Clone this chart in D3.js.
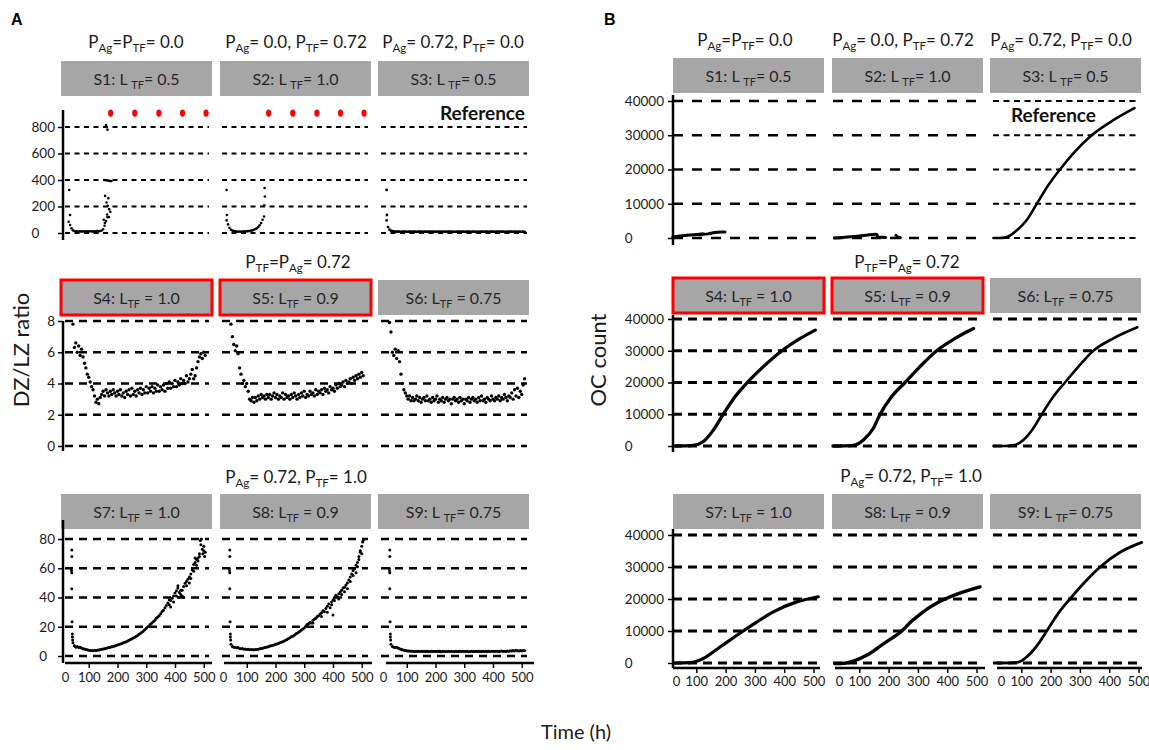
<!DOCTYPE html>
<html>
<head>
<meta charset="utf-8">
<script src="https://cdnjs.cloudflare.com/ajax/libs/d3/7.8.5/d3.min.js"></script>
<style>
  body { margin: 0; background: #fff; }
  svg text { white-space: pre; }
</style>
</head>
<body>
<div id="chart"></div>
<script>
// ---------- data: DZ/LZ ratio scatter (panel A), sampled every 5 h ----------
const step = 5;
const toPts = (start, vals) => vals.map((v, i) => [start + i * step, v]);

// row 1 (P_Ag / P_TF variations)
const dzlzS1 = [85, 60, 35, 20, 15, 13, 12, 11, 12, 11, 12, 11, 13, 12, 11, 13, 12, 11, 13, 12,
  14, 13, 15, 18, 28, 55, 90, 120];                                   // from 30 h
const dzlzS1Extra = [[32, 325], [35, 136], [157, 800], [160, 815], [165, 780], [155, 400], [160, 398],
  [165, 396], [170, 394], [175, 393], [179, 392], [157, 280], [168, 262], [162, 230], [166, 205],
  [171, 180], [175, 160], [164, 140], [170, 120], [152, 100], [156, 75]];
const dzlzS2 = [95, 65, 40, 25, 18, 14, 12, 11, 10, 11, 10, 11, 12, 11, 13, 14, 15, 18, 20, 24,
  30, 36, 45, 58, 75, 100, 125];                                      // from 30 h
const dzlzS2Extra = [[30, 325], [31, 136], [162, 340], [163, 275], [161, 210]];
const dzlzS3 = [95, 45, 25, 17, 14, 12, 11, 10, 11, 10, 9, 10, 11, 10, 9, 10, 10, 11, 9, 10,
  10, 9, 10, 11, 10, 9, 10, 10, 9, 10, 11, 10, 10, 9, 10, 9, 10, 11, 10, 9,
  10, 10, 9, 10, 11, 10, 9, 10, 9, 10, 10, 11, 9, 10, 10, 9, 10, 11, 10, 9,
  10, 10, 9, 10, 9, 10, 11, 10, 9, 10, 10, 9, 10, 11, 10, 9, 10, 10, 9, 10,
  11, 10, 9, 10, 9, 10, 10, 11, 9, 10, 10, 9, 10, 10, 9, 10, 9];     // from 30 h
const dzlzS3Extra = [[30, 325], [31, 136]];
const extinctHours = [176, 260, 344, 426, 508];
const extinctLevel = 905;

// row 2 (P_TF = P_Ag = 0.72)
const dzlzS4 = [7.8, 6.3, 6.6, 6.0, 6.4, 5.8, 6.2, 5.7, 5.3, 5.0,
  4.6, 4.4, 4.1, 3.8, 3.6, 3.2, 2.8, 3.0, 2.7, 3.1,
  3.3, 3.5, 3.2, 3.6, 3.4, 3.2, 3.5, 3.3, 3.6, 3.4,
  3.2, 3.5, 3.3, 3.6, 3.2, 3.4, 3.1, 3.5, 3.3, 3.6,
  3.2, 3.7, 3.3, 3.5, 3.2, 3.6, 3.4, 3.7, 3.3, 3.6,
  3.4, 3.8, 3.4, 3.7, 3.5, 3.8, 3.4, 3.7, 3.5, 3.9,
  3.5, 3.8, 3.6, 3.9, 3.5, 4.0, 3.7, 4.1, 3.7, 4.0,
  3.8, 4.2, 3.8, 4.1, 3.9, 4.3, 4.0, 4.2, 4.0, 4.5,
  4.1, 4.3, 4.6, 4.9, 4.3, 4.5, 5.0, 5.4, 5.7, 5.9,
  5.6, 6.0, 5.8];                                                      // from 45 h
const dzlzS5 = [7.8, 7.0, 6.5, 6.1, 6.4, 5.9, 5.0, 4.6, 4.0, 4.2,
  3.8, 4.0, 3.5, 3.0, 2.9, 3.1, 2.8, 3.1, 2.9, 3.2,
  3.0, 3.3, 3.1, 3.2, 3.0, 3.3, 3.1, 3.3, 3.0, 3.2,
  3.4, 3.1, 3.3, 3.0, 3.2, 3.1, 3.4, 3.0, 3.3, 3.1,
  3.2, 3.0, 3.3, 3.1, 3.4, 3.2, 3.0, 3.3, 3.1, 3.4,
  3.2, 3.5, 3.1, 3.3, 3.2, 3.5, 3.3, 3.4, 3.2, 3.6,
  3.3, 3.5, 3.4, 3.6, 3.3, 3.7, 3.5, 3.6, 3.4, 3.8,
  3.6, 3.7, 3.5, 3.9, 3.7, 4.0, 3.8, 3.9, 4.1, 3.8,
  4.2, 4.0, 4.1, 4.3, 4.0, 4.4, 4.2, 4.5, 4.3, 4.6,
  4.4, 4.7, 4.5];                                                      // from 45 h
const dzlzS6 = [7.9, 7.3, 6.0, 5.8, 6.2, 5.6, 6.1, 5.4, 4.6, 4.0,
  3.6, 3.4, 3.2, 3.0, 3.2, 2.9, 3.1, 2.9, 3.0, 3.2,
  2.9, 3.1, 2.8, 3.0, 3.1, 2.9, 3.2, 2.9, 3.0, 2.8,
  3.1, 2.9, 3.0, 3.2, 2.8, 3.0, 2.9, 3.1, 2.8, 3.0,
  3.1, 2.9, 3.0, 2.7, 3.0, 3.1, 2.9, 3.0, 2.8, 3.1,
  2.9, 3.0, 2.7, 3.0, 2.9, 3.1, 2.8, 3.0, 3.1, 2.9,
  3.0, 2.8, 3.1, 2.9, 3.2, 2.9, 3.0, 2.8, 3.1, 3.0,
  2.9, 3.2, 3.0, 2.9, 3.1, 3.0, 3.2, 2.9, 3.1, 3.0,
  3.3, 3.1, 2.9, 3.2, 3.1, 3.4, 3.0, 3.6, 3.2, 3.7,
  3.1, 3.5, 3.3, 3.9, 4.3];                                            // from 40 h

// row 3 (P_Ag = 0.72, P_TF = 1.0)
const earlySpike = [[41, 72.5], [41, 68], [39, 60], [40, 58.5], [41, 57], [41, 46], [42, 23.5],
  [43, 15], [43, 13], [44, 11]];
const dzlzS7 = [9, 7, 6, 6.5, 5.8, 6, 5.5, 5, 4.8, 4.5,
  4.2, 4, 3.7, 3.8, 3.6, 3.7, 3.8, 4, 4.1, 4.4,
  4.6, 4.8, 5, 5.3, 5.4, 5.8, 6, 6.3, 6.5, 6.9,
  7.2, 7.5, 7.8, 8.2, 8.5, 9, 9.4, 9.8, 10.3, 10.8,
  11.2, 11.8, 12.3, 12.9, 13.5, 14.1, 14.8, 15.5, 16.3, 17.1,
  18, 19, 20, 20.6, 21.8, 22.5, 23.6, 24.4, 25.8, 26.6,
  27.5, 28.9, 30.4, 31.2, 33, 34.5, 36.2, 35.1, 38, 39.5,
  41, 43, 44.6, 46.5, 43.5, 42, 45, 47.5, 49.8, 51,
  52.5, 54, 56, 59, 62.5, 64, 66, 67, 70, 76,
  73, 72, 71];                                                         // from 45 h
const dzlzS7Extra = [[380, 38.5], [385, 33.5], [395, 37], [405, 41], [410, 48], [415, 40], [420, 45],
  [425, 41], [430, 40], [440, 48], [450, 50], [455, 53], [465, 58], [470, 67], [475, 62], [480, 65],
  [485, 68], [488, 79], [492, 80], [497, 70], [500, 75], [503, 68]];
const dzlzS8 = [8, 6.5, 6, 6, 5.6, 5.8, 5.2, 5, 5.1, 4.7,
  4.8, 4.5, 4.6, 4.3, 4.4, 4.2, 4.3, 4.5, 4.4, 4.7,
  4.9, 5.1, 5.3, 5.7, 5.8, 6.2, 6.4, 6.9, 7, 7.4,
  7.6, 8, 8.2, 8.6, 9, 9.4, 9.8, 10.2, 10.8, 11.3,
  11.9, 12.4, 13.1, 13.5, 14.2, 15, 15.6, 16.3, 16.9, 17.8,
  18.5, 19.2, 20.3, 21.5, 22, 23, 22.5, 24.5, 25.1, 25.8,
  27, 27.5, 28.8, 29.5, 31, 30.5, 32.5, 34, 35.5, 33,
  37, 38.5, 40, 41.5, 40.5, 42.5, 43.8, 45, 46.5, 47,
  48.5, 50, 52, 54, 56, 58.5, 60, 62, 64, 68,
  71, 75, 79];                                                         // from 45 h
const dzlzS8Extra = [[330, 22.5], [360, 27], [380, 30], [395, 35], [400, 28], [405, 38], [420, 39],
  [430, 42], [440, 44], [450, 46], [460, 51], [470, 55], [480, 57], [485, 61], [490, 66], [495, 72],
  [500, 70], [503, 78]];
const dzlzS9 = [8, 6.5, 6, 5.8, 6, 5.5, 5, 4.6, 4.3, 4,
  3.8, 3.6, 3.4, 3.5, 3.2, 3.3, 3.1, 3.3, 3.0, 3.2,
  3.1, 3.3, 3.0, 3.2, 3.1, 3.3, 3.0, 3.1, 3.2, 3.0,
  3.2, 3.1, 3.3, 3.0, 3.2, 2.9, 3.1, 3.2, 3.0, 3.1,
  3.3, 3.0, 3.2, 3.1, 2.9, 3.2, 3.0, 3.1, 3.3, 3.0,
  3.2, 3.1, 3.0, 3.2, 2.9, 3.1, 3.2, 3.0, 3.1, 3.3,
  3.0, 3.2, 3.1, 3.0, 3.2, 3.1, 3.3, 3.0, 3.2, 3.1,
  3.3, 3.2, 3.0, 3.2, 3.3, 3.1, 3.2, 3.4, 3.2, 3.3,
  3.1, 3.5, 3.3, 3.6, 3.4, 3.8, 3.5, 3.9, 3.6, 3.4,
  3.7, 3.5, 3.8, 3.6];                                                 // from 45 h

// ---------- data: OC count curves (panel B), [hour, count] ----------
const ocS1 = [[20, 300], [60, 700], [100, 1000], [125, 1300], [105, 900], [140, 1200], [170, 1700], [198, 1750]];
const ocS2 = [[15, 0], [40, 150], [70, 350], [100, 600], [130, 900], [150, 1050], [160, 1000], [163, 300], [175, 200], [190, 150]];
const ocS2Tail = [[225, 800], [232, 300], [240, 100]];
const ocS3 = [[5, 0], [25, 0], [44, 100], [84, 2200], [118, 5200], [153, 10000], [192, 15400], [232, 20000],
  [283, 25200], [340, 30000], [414, 34400], [486, 37900]];
const ocS4 = [[30, 0], [60, 50], [90, 200], [124, 1400], [158, 5000], [192, 10000], [232, 15500], [274, 20000],
  [329, 25000], [392, 30000], [455, 33900], [506, 36500]];
const ocS5 = [[10, 0], [50, 50], [80, 200], [114, 1900], [148, 5600], [171, 10000], [210, 15500], [256, 20000],
  [307, 25000], [364, 30000], [427, 33900], [490, 37000]];
const ocS6 = [[5, 0], [40, 0], [73, 200], [107, 1900], [141, 5600], [170, 10000], [209, 15500], [249, 20000],
  [295, 25000], [346, 30000], [414, 33900], [496, 37400]];
const ocS7 = [[27, 0], [78, 100], [124, 1400], [181, 5000], [260, 10000], [306, 12800], [363, 16000],
  [443, 19100], [516, 20700]];
const ocS8 = [[17, -200], [50, -100], [80, 600], [125, 2400], [182, 6000], [245, 10000], [280, 13200],
  [307, 15200], [340, 17400], [364, 18700], [433, 21500], [512, 23800]];
const ocS9 = [[18, 0], [60, 50], [90, 300], [130, 2900], [158, 6000], [187, 10000], [226, 15500],
  [266, 20000], [317, 25300], [369, 30000], [437, 34600], [511, 37700]];

// ---------- tick labels ----------
const hourTicks = [0, 100, 200, 300, 400, 500];
const dzlzTicks = [[0, 200, 400, 600, 800], [0, 2, 4, 6, 8], [0, 20, 40, 60, 80]];
const ocTicks = [0, 10000, 20000, 30000, 40000];

// ---------- text ----------
// odd entries are subscripts
const boxLabels = [
  ["S1: L ", "TF", "= 0.5"], ["S2: L ", "TF", "= 1.0"], ["S3: L ", "TF", "= 0.5"],
  ["S4: L", "TF", " = 1.0"], ["S5: L", "TF", " = 0.9"], ["S6: L", "TF", " = 0.75"],
  ["S7: L", "TF", " = 1.0"], ["S8: L", "TF", " = 0.9"], ["S9: L ", "TF", "= 0.75"]
];
const colTitles = [["P", "Ag", "=P", "TF", "= 0.0"], ["P", "Ag", "= 0.0, P", "TF", "= 0.72"], ["P", "Ag", "= 0.72, P", "TF", "= 0.0"]];
const rowTitles = [["P", "TF", "=P", "Ag", "= 0.72"], ["P", "Ag", "= 0.72, P", "TF", "= 1.0"]];

// ---------- layout ----------
const W = 1149, H = 750;
const FONT = "Lato, 'Open Sans', sans-serif";
const GREY = "#a6a6a6", RED = "#ff0000";
const boxW = 151, boxH = 35;

const svg = d3.select("#chart").append("svg")
  .attr("width", W).attr("height", H)
  .attr("font-family", FONT);

const sideA = {
  x0: [60, 218, 378], pph: 0.2875,
  grid: [[65, 209], [222, 368], [381, 527]],
  xAxis: [[65, 212], [224, 372], [386, 534]],
  box: [61, 220, 378],
  yAxisX: 63, xAxisY: 663, tickFont: 13.5, xPad: 5, zeroShift: 5,
  colTitleX: [136, 296, 453], colTitleY: 48, rowTitleX: [298, 296], rowTitleY: [268, 483],
  rows: [
    { boxY: 61, y: [233, 127], axis: [110, 240], dash: "5,4.5", dw: 2 },
    { boxY: 280, y: [446, 321], axis: [321, 451], dash: "8,6", dw: 2.4 },
    { boxY: 494, y: [656, 539], axis: [520, 663], dash: "8,6", dw: 2.4 }
  ]
};
const sideB = {
  x0: [667, 830, 992], pph: 0.293,
  grid: [[673, 821], [833, 980], [993, 1137]],
  xAxis: [[673, 820], [835, 985], [997, 1142]],
  box: [673, 832, 990],
  yAxisX: 673, xAxisY: 668, tickFont: 13.5, xPad: 4, zeroShift: 9,
  colTitleX: [745, 903, 1061], colTitleY: 46, rowTitleX: [907, 911], rowTitleY: [268, 482],
  rows: [
    { boxY: 58, y: [238, 101], axis: [95, 245], dash: "10,9", dw: 2.6 },
    { boxY: 278, y: [446, 319], axis: [315, 452], dash: "9,6", dw: 3 },
    { boxY: 494, y: [663, 535], axis: [529, 668], dash: "9,6", dw: 3 }
  ]
};

// ---------- helpers ----------
function richText(sel, parts, fs) {
  const shift = fs * 0.24;
  parts.forEach((p, i) => {
    const t = sel.append("tspan").text(p);
    if (i % 2 === 1) t.attr("font-size", fs * 0.68).attr("dy", shift);
    else if (i > 0) t.attr("dy", -shift);
  });
  return sel;
}

function label(x, y, parts, fs, anchor) {
  const t = svg.append("text").attr("x", x).attr("y", y)
    .attr("font-size", fs).attr("fill", "#1a1a1a")
    .attr("text-anchor", anchor || "middle");
  return richText(t, parts, fs);
}

function drawPanel(side, row, col, idx, opts) {
  const R = side.rows[row];
  const x = d3.scaleLinear().domain([0, 500]).range([side.x0[col], side.x0[col] + 500 * side.pph]);
  const y = d3.scaleLinear().domain([0, opts.ticks[opts.ticks.length - 1]])
    .range(R.y);
  const g = svg.append("g");

  // header box
  g.append("rect")
    .attr("x", side.box[col]).attr("y", R.boxY)
    .attr("width", boxW).attr("height", boxH)
    .attr("fill", GREY)
    .attr("stroke", opts.red ? RED : "none").attr("stroke-width", 3);
  richText(g.append("text")
    .attr("x", side.box[col] + boxW / 2).attr("y", R.boxY + 24)
    .attr("text-anchor", "middle").attr("font-size", 16).attr("fill", "#262626"),
    boxLabels[idx], 16);

  // dashed grid lines
  const [gx0, gx1] = side.grid[col];
  g.selectAll(null).data(opts.ticks).enter().append("line")
    .attr("x1", gx0).attr("x2", gx1)
    .attr("y1", d => y(d)).attr("y2", d => y(d))
    .attr("stroke", "#000").attr("stroke-width", opts.dw || R.dw)
    .attr("stroke-dasharray", opts.dash || R.dash);

  // y axis on first column
  if (col === 0) {
    g.append("line")
      .attr("x1", side.yAxisX).attr("x2", side.yAxisX)
      .attr("y1", R.axis[0]).attr("y2", R.axis[1])
      .attr("stroke", "#000").attr("stroke-width", 2.5);
    const ax = g.append("g")
      .attr("transform", `translate(${side.yAxisX},0)`)
      .call(d3.axisLeft(y).tickValues(opts.ticks).tickFormat(d3.format("d"))
        .tickSize(5).tickPadding(side === sideA ? 3 : 4));
    ax.select(".domain").remove();
    ax.attr("font-family", FONT).attr("font-size", side.tickFont);
    ax.selectAll(".tick line").attr("stroke-width", 1.5);
    ax.selectAll(".tick text").attr("fill", "#1a1a1a");
    // the zero label is left-aligned with the widest label
    const texts = ax.selectAll(".tick text").nodes();
    const left = d3.min(texts, n => n.getBBox().x);
    ax.selectAll(".tick text").filter(d => d === 0)
      .attr("text-anchor", "start").attr("x", left);
  }

  // x axis on bottom row
  if (row === 2) {
    const [ax0, ax1] = side.xAxis[col];
    g.append("line")
      .attr("x1", ax0).attr("x2", ax1)
      .attr("y1", side.xAxisY).attr("y2", side.xAxisY)
      .attr("stroke", "#000").attr("stroke-width", 2.5);
    const ax = g.append("g")
      .attr("transform", `translate(0,${side.xAxisY})`)
      .call(d3.axisBottom(x).tickValues(hourTicks).tickSize(5).tickPadding(side.xPad));
    ax.select(".domain").remove();
    ax.attr("font-family", FONT).attr("font-size", 13);
    ax.selectAll(".tick line").attr("stroke-width", 1.5)
      .attr("opacity", d => d === 0 ? 0 : 1);
    ax.selectAll(".tick text").attr("fill", "#1a1a1a")
      .filter(d => d === 0).attr("dx", side.zeroShift);
  }

  // scatter points
  if (opts.points) {
    g.selectAll(null).data(opts.points).enter().append("circle")
      .attr("cx", d => x(d[0])).attr("cy", d => y(d[1]))
      .attr("r", opts.r || 1.4).attr("fill", "#000");
  }
  if (opts.extinct) {
    g.selectAll(null).data(extinctHours).enter().append("ellipse")
      .attr("cx", d => x(d)).attr("cy", y(extinctLevel))
      .attr("rx", 2.6).attr("ry", 3.6).attr("fill", RED);
  }
  // curves
  if (opts.lines) {
    const line = d3.line().x(d => x(d[0])).y(d => y(d[1]))
      .curve(opts.monotone ? d3.curveMonotoneX : d3.curveCatmullRom.alpha(0.5));
    opts.lines.forEach(l => {
      g.append("path").attr("d", line(l))
        .attr("fill", "none").attr("stroke", "#000")
        .attr("stroke-width", opts.lw || 3).attr("stroke-linecap", "round");
    });
  }
  if (opts.reference) {
    g.append("text").attr("x", opts.reference[0]).attr("y", opts.reference[1])
      .attr("text-anchor", "end").attr("font-size", 19).attr("font-weight", "bold")
      .attr("fill", "#111").text("Reference");
  }
}

// ---------- panel A: DZ/LZ ratio ----------
const aPanels = [
  { row: 0, col: 0, points: toPts(30, dzlzS1).concat(dzlzS1Extra), extinct: true, r: 1.3 },
  { row: 0, col: 1, points: toPts(30, dzlzS2).concat(dzlzS2Extra), extinct: true, r: 1.3 },
  { row: 0, col: 2, points: toPts(30, dzlzS3).concat(dzlzS3Extra), r: 1.4, reference: [525, 120] },
  { row: 1, col: 0, points: toPts(45, dzlzS4), red: true, r: 1.7 },
  { row: 1, col: 1, points: toPts(45, dzlzS5), red: true, r: 1.7 },
  { row: 1, col: 2, points: toPts(40, dzlzS6), r: 1.7 },
  { row: 2, col: 0, points: earlySpike.concat(toPts(45, dzlzS7), dzlzS7Extra), r: 1.5 },
  { row: 2, col: 1, points: earlySpike.concat(toPts(45, dzlzS8), dzlzS8Extra), r: 1.5 },
  { row: 2, col: 2, points: earlySpike.concat(toPts(45, dzlzS9)), r: 1.5 }
];
aPanels.forEach((p, i) => drawPanel(sideA, p.row, p.col, i, Object.assign({ ticks: dzlzTicks[p.row] }, p)));

// ---------- panel B: OC count ----------
const bPanels = [
  { row: 0, col: 0, lines: [ocS1], lw: 3 },
  { row: 0, col: 1, lines: [ocS2, ocS2Tail], lw: 3 },
  { row: 0, col: 2, lines: [ocS3], lw: 2.6, monotone: true, reference: [1096, 122], dash: "6,4.5", dw: 2.2 },
  { row: 1, col: 0, lines: [ocS4], red: true, lw: 3.3, monotone: true },
  { row: 1, col: 1, lines: [ocS5], red: true, lw: 3.3, monotone: true },
  { row: 1, col: 2, lines: [ocS6], lw: 2.6, monotone: true },
  { row: 2, col: 0, lines: [ocS7], lw: 3.2, monotone: true },
  { row: 2, col: 1, lines: [ocS8], lw: 3.4, monotone: true },
  { row: 2, col: 2, lines: [ocS9], lw: 2.8, monotone: true }
];
bPanels.forEach((p, i) => drawPanel(sideB, p.row, p.col, i, Object.assign({ ticks: ocTicks }, p)));

// ---------- titles ----------
[sideA, sideB].forEach(side => {
  colTitles.forEach((t, c) => label(side.colTitleX[c], side.colTitleY, t, 17));
  rowTitles.forEach((t, r) => label(side.rowTitleX[r], side.rowTitleY[r], t, 17));
});

svg.append("text").attr("x", 11).attr("y", 25).attr("font-family", "'Liberation Sans', Arial, sans-serif")
  .attr("font-weight", "bold").attr("font-size", 16).text("A");
svg.append("text").attr("x", 604).attr("y", 25).attr("font-family", "'Liberation Sans', Arial, sans-serif")
  .attr("font-weight", "bold").attr("font-size", 16).text("B");

svg.append("text").attr("transform", "translate(29,350) rotate(-90)")
  .attr("text-anchor", "middle").attr("font-size", 22).attr("fill", "#1a1a1a").text("DZ/LZ ratio");
svg.append("text").attr("transform", "translate(606,360) rotate(-90)")
  .attr("text-anchor", "middle").attr("font-size", 22).attr("fill", "#1a1a1a").text("OC count");
svg.append("text").attr("x", 576).attr("y", 739)
  .attr("text-anchor", "middle").attr("font-size", 20).attr("fill", "#1a1a1a").text("Time (h)");
</script>
</body>
</html>
